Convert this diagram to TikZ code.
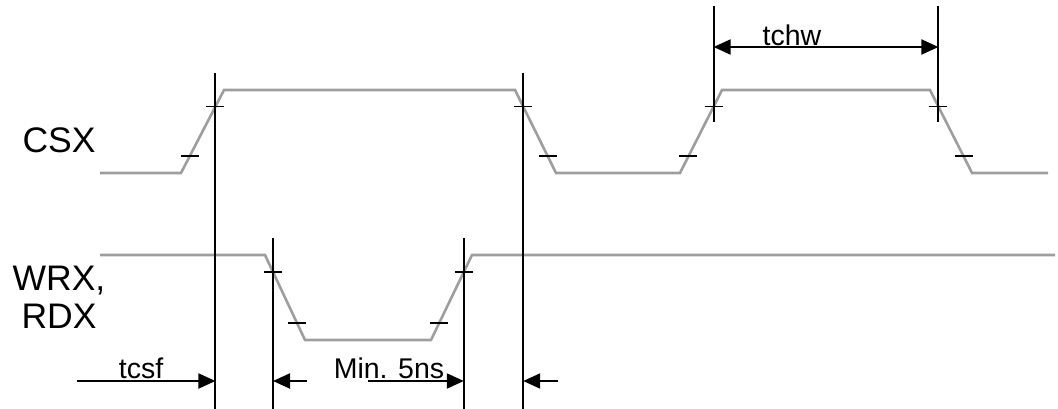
\documentclass[tikz,border=0pt]{standalone}
\usepackage{fontspec}
\setmainfont{Liberation Sans}
\usetikzlibrary{arrows.meta}
\tikzset{
  sig/.style={draw=black!38, line width=2.6pt},
  refline/.style={draw=black, line width=2pt},
  tickmark/.style={draw=black, line width=1.8pt},
  dimline/.style={draw=black, line width=2pt},
  tip/.style={-{Triangle[length=17pt,width=15pt]}},
  tips/.style={{Triangle[length=17pt,width=15pt]}-{Triangle[length=17pt,width=15pt]}},
  signame/.style={font=\fontsize{35.5}{38}\selectfont, anchor=base},
  dimlabel/.style={font=\fontsize{28.5}{30}\selectfont, anchor=base, inner sep=0pt}
}
\begin{document}
\begin{tikzpicture}[x=1pt,y=-1pt]
\useasboundingbox (0,0) rectangle (1058,409);
% signal names
\node[signame] (csx) at (59,153) {CSX};
\node[signame] (wrx) at (59,290) {WRX,};
\node[signame] (rdx) at (59,328) {RDX};
% CSX
\draw[sig] (100,173) -- (181,173)
  -- coordinate[pos=.2] (c1lo) coordinate[pos=.8] (c1hi) (224,90) -- (515,90)
  -- coordinate[pos=.2] (c2hi) coordinate[pos=.8] (c2lo) (556,173) -- (680,173)
  -- coordinate[pos=.2] (c3lo) coordinate[pos=.8] (c3hi) (722,90) -- (930,90)
  -- coordinate[pos=.2] (c4hi) coordinate[pos=.8] (c4lo) (972,173) -- (1048,173);
% WRX, RDX
\draw[sig] (100,255) -- (265,255)
  -- coordinate[pos=.2] (w1hi) coordinate[pos=.8] (w1lo) (305,340) -- (431,340)
  -- coordinate[pos=.2] (w2lo) coordinate[pos=.8] (w2hi) (472,255) -- (1055,255);
% 20% / 80% marks
\foreach \m in {c1lo,c1hi,c2hi,c2lo,c3lo,c3hi,c4hi,c4lo,w1hi,w1lo,w2lo,w2hi}
  \draw[tickmark] ([xshift=-9pt]\m) -- ([xshift=9pt]\m);
% reference lines
\draw[refline] (c1hi |- 0,73) -- (c1hi |- 0,409);
\draw[refline] (c2hi |- 0,73) -- (c2hi |- 0,409);
\draw[refline] (w1hi |- 0,238) -- (w1hi |- 0,409);
\draw[refline] (w2hi |- 0,238) -- (w2hi |- 0,409);
\draw[refline] (c3hi |- 0,6) -- (c3hi |- 0,122);
\draw[refline] (c4hi |- 0,6) -- (c4hi |- 0,122);
% timings
\coordinate (tcsfstart) at (77,381);
\draw[dimline,tip] (tcsfstart) -- (c1hi |- tcsfstart);
\node[dimlabel] (tcsf) at (141,378) {tcsf};
\draw[dimline,tip] (307,381) -- (w1hi |- tcsfstart);
\draw[dimline,tip] (368,381) -- (w2hi |- tcsfstart);
\node[dimlabel] (minfive) at (389,378) {Min. 5ns};
\draw[dimline,tip] (558,381) -- (c2hi |- tcsfstart);
\draw[dimline,tips] (c3hi |- 0,47) -- (c4hi |- 0,47);
\node[dimlabel] (tchw) at (792,46) {tchw};
\end{tikzpicture}
\end{document}
